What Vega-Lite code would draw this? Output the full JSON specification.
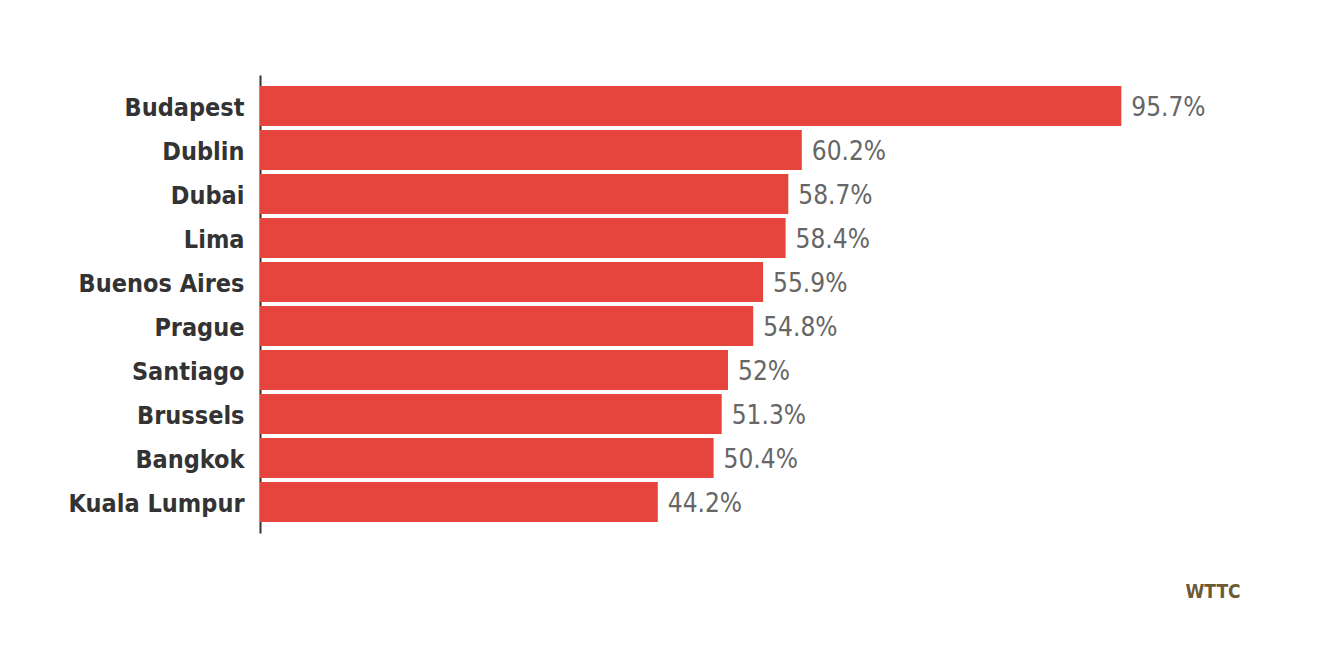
{
  "$schema": "https://vega.github.io/schema/vega-lite/v6.json",
  "width": 900,
  "height": 458,
  "autosize": "none",
  "padding": {"left": 260, "top": 75, "right": 162, "bottom": 117},
  "background": "white",
  "title": {
    "text": "WTTC",
    "orient": "bottom",
    "anchor": "end",
    "dx": 35,
    "offset": 50,
    "font": "DejaVu Sans Condensed",
    "fontSize": 19,
    "fontWeight": "bold",
    "color": "#6b5a35"
  },
  "data": {
    "values": [
      {"city": "Budapest", "value": 95.7, "label": "95.7%"},
      {"city": "Dublin", "value": 60.2, "label": "60.2%"},
      {"city": "Dubai", "value": 58.7, "label": "58.7%"},
      {"city": "Lima", "value": 58.4, "label": "58.4%"},
      {"city": "Buenos Aires", "value": 55.9, "label": "55.9%"},
      {"city": "Prague", "value": 54.8, "label": "54.8%"},
      {"city": "Santiago", "value": 52.0, "label": "52%"},
      {"city": "Brussels", "value": 51.3, "label": "51.3%"},
      {"city": "Bangkok", "value": 50.4, "label": "50.4%"},
      {"city": "Kuala Lumpur", "value": 44.2, "label": "44.2%"}
    ]
  },
  "encoding": {
    "y": {
      "field": "city",
      "type": "nominal",
      "sort": null,
      "scale": {"paddingInner": 0.0909, "paddingOuter": 0.25},
      "axis": {
        "title": null,
        "ticks": false,
        "domainColor": "#333333",
        "domainWidth": 2,
        "labelFont": "DejaVu Sans Condensed",
        "labelFontSize": 25,
        "labelFontWeight": "bold",
        "labelColor": "#333333",
        "labelPadding": 16,
        "labelOffset": 2,
        "grid": false
      }
    },
    "x": {
      "field": "value",
      "type": "quantitative",
      "scale": {"domain": [0, 100]},
      "axis": null
    }
  },
  "layer": [
    {"mark": {"type": "bar", "color": "#e5453c"}},
    {
      "mark": {
        "type": "text",
        "align": "left",
        "baseline": "middle",
        "dx": 10,
        "dy": 2,
        "font": "DejaVu Sans Condensed",
        "fontSize": 26,
        "color": "#666666"
      },
      "encoding": {"text": {"field": "label"}}
    }
  ],
  "config": {"view": {"stroke": null}}
}
